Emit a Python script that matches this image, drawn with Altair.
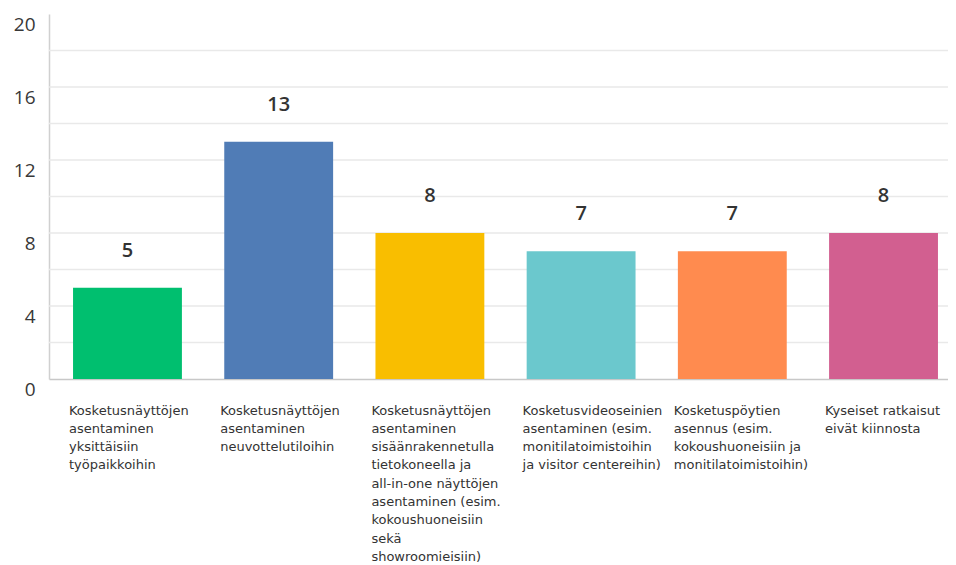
import altair as alt
import pandas as pd

categories = [
    "Kosketusnäyttöjen|asentaminen|yksittäisiin|työpaikkoihin",
    "Kosketusnäyttöjen|asentaminen|neuvottelutiloihin",
    "Kosketusnäyttöjen|asentaminen|sisäänrakennetulla|tietokoneella ja|all-in-one näyttöjen|asentaminen (esim.|kokoushuoneisiin|sekä|showroomieisiin)",
    "Kosketusvideoseinien|asentaminen (esim.|monitilatoimistoihin|ja visitor centereihin)",
    "Kosketuspöytien|asennus (esim.|kokoushuoneisiin ja|monitilatoimistoihin)",
    "Kyseiset ratkaisut|eivät kiinnosta",
]
values = [5, 13, 8, 7, 7, 8]
colors = ["#00BF6F", "#507CB6", "#F9BE00", "#6BC8CD", "#FF8B4F", "#D25F90"]
y_ticks = [0, 4, 8, 12, 16, 20]
grid_values = [2, 4, 6, 8, 10, 12, 14, 16, 18]

df = pd.DataFrame({"cat": categories, "value": values})
grid_df = pd.DataFrame({"g": grid_values})

W, H = 899, 365

y_scale = alt.Scale(domain=[0, 20], nice=False)
x_scale = alt.Scale(range=[0, 913], paddingInner=0.28, paddingOuter=0.159)

y_axis = alt.Axis(
    title=None,
    values=y_ticks,
    grid=False,
    ticks=False,
    labelPadding=14,
    labelOffset=10,
    labelFont="Open Sans",
    labelFontSize=19,
    labelColor="#383838",
    domainColor="#d0d0d0",
    domainWidth=1.5,
)

grid = alt.Chart(grid_df).mark_rule(color="#e9e9e9", strokeWidth=1.5).encode(
    y=alt.Y("g:Q", scale=y_scale, axis=y_axis)
)

x_enc = alt.X(
    "cat:N",
    sort=categories,
    scale=x_scale,
    axis=alt.Axis(
        title=None,
        labelExpr="split(datum.label, '|')",
        labelAngle=0,
        labelAlign="left",
        labelBaseline="top",
        labelOffset=-58.5,
        labelPadding=25,
        labelLineHeight=18.3,
        labelFont="DejaVu Sans",
        labelFontSize=13,
        labelColor="#333333",
        labelOverlap=False,
        labelBound=False,
        labelFlush=False,
        labelLimit=400,
        ticks=False,
        domainColor="#c8c8c8",
        domainWidth=1.5,
        grid=False,
    ),
)

bars = alt.Chart(df).mark_bar().encode(
    x=x_enc,
    y=alt.Y("value:Q", scale=y_scale, axis=y_axis),
    color=alt.Color("cat:N", scale=alt.Scale(domain=categories, range=colors), legend=None),
)

text = alt.Chart(df).mark_text(
    dy=-37, baseline="middle", font="Open Sans", fontSize=20, fontWeight=600, color="#333333"
).encode(
    x=alt.X("cat:N", sort=categories, scale=x_scale),
    y=alt.Y("value:Q", scale=y_scale),
    text=alt.Text("value:Q"),
)

chart = alt.layer(grid, bars, text).properties(
    width=W,
    height=H,
    padding={"left": 41, "top": 6, "right": 0, "bottom": 190},
    autosize=alt.AutoSizeParams(type="none"),
).configure_view(stroke=None)

chart.save("out.html", embed_options={"renderer": "svg", "actions": False})
